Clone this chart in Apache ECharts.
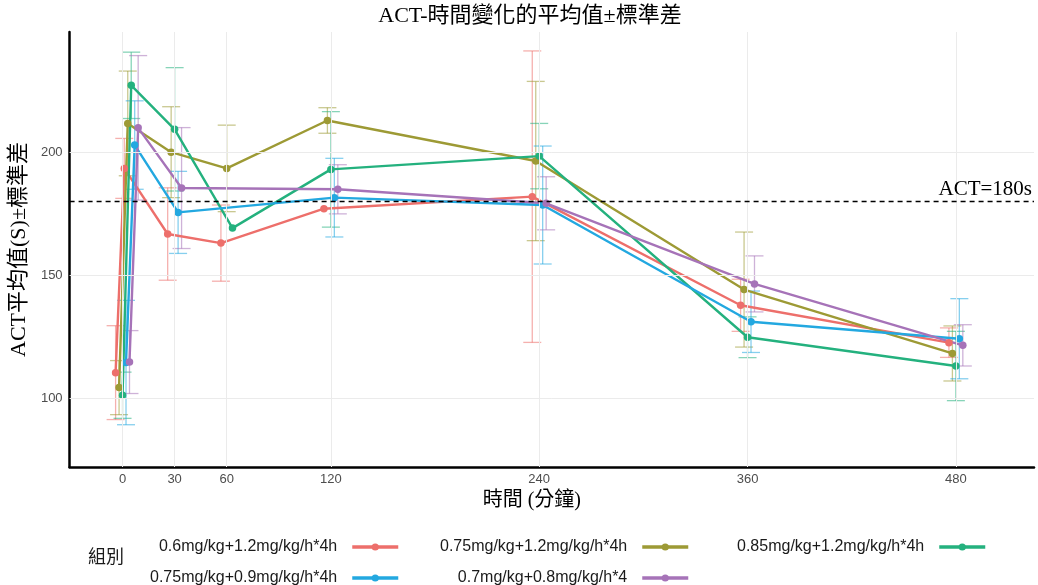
<!DOCTYPE html>
<html>
<head>
<meta charset="utf-8">
<script src="https://cdn.jsdelivr.net/npm/echarts@6/dist/echarts.min.js"></script>
<style>html,body{margin:0;padding:0;background:#fff}#c{width:1038px;height:585px}</style>
</head>
<body>
<div id="c"></div>
<script>
// ---- data ----
const times = [0, 5, 30, 60, 120, 240, 360, 480];
const xTickLabels = [0, 30, 60, 120, 240, 360, 480];
const yTickLabels = [100, 150, 200];
const refLine = 180;
const groupNames = [
  '0.6mg/kg+1.2mg/kg/h*4h',
  '0.75mg/kg+1.2mg/kg/h*4h',
  '0.85mg/kg+1.2mg/kg/h*4h',
  '0.75mg/kg+0.9mg/kg/h*4h',
  '0.7mg/kg+0.8mg/kg/h*4'
];
const meanG1 = [110.4, 193.5, 166.8, 163.1, 177.1, 182.0, 137.8, 122.6];
const meanG2 = [104.3, 211.8, 200.1, 193.5, 213.0, 196.5, 144.2, 118.2];
const meanG3 = [101.2, 227.3, 209.4, 169.2, 193.1, 198.5, 124.8, 113.1];
const meanG4 = [114.5, 203.0, 175.6, null, 181.6, 178.6, 131.1, 124.2];
const meanG5 = [114.7, 210.0, 185.5, null, 185.0, 179.3, 146.5, 121.5];
const sdG1 = [19.1, 12.2, 18.8, 15.5, null, 59.3, 10.6, 6.0];
const sdG2 = [11.0, 21.3, 18.5, 17.6, 5.2, 32.4, 23.4, 11.2];
const sdG3 = [9.4, 13.5, 25.1, null, 23.5, 13.3, 8.3, 14.1];
const sdG4 = [25.3, 18.0, 16.7, null, 16.0, 24.0, 12.5, 16.3];
const sdG5 = [12.8, 29.4, 24.6, null, 10.0, 10.8, 11.4, 8.4];

// ---- styles ----
const colors = ['#ED6F6B', '#9D9A35', '#24B17E', '#23A8E0', '#A673B8'];
const errAlpha = 0.55;
const dodgeWidth = 10;
const means = [meanG1, meanG2, meanG3, meanG4, meanG5];
const sds = [sdG1, sdG2, sdG3, sdG4, sdG5];

// dodge offsets per time point (like ggplot position_dodge)
const xPos = means.map(() => times.map(() => null));
times.forEach((t, ti) => {
  const present = [];
  means.forEach((m, gi) => { if (m[ti] != null) present.push(gi); });
  const n = present.length;
  present.forEach((gi, k) => {
    xPos[gi][ti] = t + (k - (n - 1) / 2) * dodgeWidth / n;
  });
});

function hexA(hex, a) {
  const r = parseInt(hex.slice(1, 3), 16), g = parseInt(hex.slice(3, 5), 16), b = parseInt(hex.slice(5, 7), 16);
  return 'rgba(' + r + ',' + g + ',' + b + ',' + a + ')';
}

const series = [];
// grid lines + reference line
series.push({
  type: 'line', data: [], silent: true, z: 0,
  markLine: {
    silent: true, symbol: 'none', animation: false,
    label: { show: false },
    lineStyle: { color: '#EBEBEB', width: 1, type: 'solid' },
    data: xTickLabels.map(v => ({ xAxis: v })).concat(yTickLabels.map(v => ({ yAxis: v })))
  }
});
series.push({
  type: 'line', data: [], silent: true, z: 1,
  markLine: {
    silent: true, symbol: 'none', animation: false,
    lineStyle: { color: '#000', width: 1.3, type: [5, 4] },
    label: {
      show: true, position: 'insideEndTop', formatter: 'ACT=180s', distance: [2, 2],
      color: '#000', fontSize: 21, fontFamily: 'Liberation Serif, serif'
    },
    data: [{ yAxis: refLine }]
  }
});

groupNames.forEach((name, gi) => {
  const errData = [];
  const lineData = [];
  times.forEach((t, ti) => {
    const m = means[gi][ti];
    if (m == null) return;
    lineData.push([xPos[gi][ti], m]);
    const s = sds[gi][ti];
    if (s != null) errData.push([xPos[gi][ti], m - s, m + s]);
  });
  const col = colors[gi];
  series.push({
    type: 'custom', name: name + ' err', z: 2, silent: true,
    data: errData,
    encode: { x: 0, y: [1, 2] },
    renderItem: function (params, api) {
      const x = api.value(0), lo = api.value(1), hi = api.value(2);
      const pt = api.coord([x, hi]);
      const pb = api.coord([x, lo]);
      const hw = 9;
      const st = { stroke: hexA(col, errAlpha), lineWidth: 1.3 };
      return {
        type: 'group',
        children: [
          { type: 'line', shape: { x1: pt[0], y1: pt[1], x2: pb[0], y2: pb[1] }, style: st },
          { type: 'line', shape: { x1: pt[0] - hw, y1: pt[1], x2: pt[0] + hw, y2: pt[1] }, style: st },
          { type: 'line', shape: { x1: pb[0] - hw, y1: pb[1], x2: pb[0] + hw, y2: pb[1] }, style: st }
        ]
      };
    }
  });
  series.push({
    type: 'line', name: name, z: 3,
    data: lineData,
    symbol: 'circle', symbolSize: 7.5,
    itemStyle: { color: col },
    lineStyle: { color: col, width: 2.4 },
    emphasis: { disabled: true }
  });
});

// legends (text left of key)
const legendRights = [638, 348, 51, 638, 348];
const legendTops = [539, 539, 539, 570, 570];
const legends = groupNames.map((name, gi) => ({
  data: [name],
  right: legendRights[gi], top: legendTops[gi],
  orient: 'horizontal', align: 'right', padding: 0,
  itemWidth: 46, itemHeight: 9, selectedMode: false,
  lineStyle: { width: 3.5 },
  textStyle: { fontSize: 16, color: '#1a1a1a', fontFamily: 'Liberation Sans, Arial, sans-serif', padding: [0, 10, 0, 0] }
}));

const chart = echarts.init(document.getElementById('c'), null, { renderer: 'canvas' });
chart.setOption({
  animation: false,
  backgroundColor: '#fff',
  color: colors,
  title: [
    {
      text: 'ACT-時間變化的平均值±標準差', left: 530, textAlign: 'center', top: 5, padding: 0,
      textStyle: { fontFamily: 'Liberation Serif, Noto Sans CJK TC, serif', fontSize: 22, fontWeight: 'normal', color: '#000' }
    },
    {
      text: '組別', left: 88, top: 547, padding: 0,
      textStyle: { fontFamily: 'Noto Sans CJK TC, sans-serif', fontSize: 18, fontWeight: 'normal', color: '#1a1a1a' }
    }
  ],
  legend: legends,
  grid: { left: 63, right: 4, top: 32, bottom: 118, containLabel: false },
  xAxis: {
    type: 'value', min: -30.5, max: 525,
    name: '時間 (分鐘)', nameLocation: 'middle', nameGap: 17,
    nameTextStyle: { fontFamily: 'Liberation Serif, Noto Sans CJK TC, serif', fontSize: 20, color: '#000', padding: [0, 40, 0, 0] },
    axisLine: { show: true, onZero: false, lineStyle: { color: '#000', width: 2.5 } },
    axisTick: { show: false },
    splitLine: { show: false },
    axisLabel: { customValues: xTickLabels, color: '#4D4D4D', fontSize: 13, margin: 6, fontFamily: 'Liberation Sans, Arial, sans-serif' }
  },
  yAxis: {
    type: 'value', min: 72, max: 249,
    name: 'ACT平均值(S)±標準差', nameLocation: 'middle', nameGap: 32, nameRotate: 90,
    nameTextStyle: { fontFamily: 'Liberation Serif, Noto Sans CJK TC, serif', fontSize: 22, color: '#000' },
    axisLine: { show: true, onZero: false, lineStyle: { color: '#000', width: 2.5 } },
    axisTick: { show: false },
    splitLine: { show: false },
    axisLabel: { customValues: yTickLabels, color: '#4D4D4D', fontSize: 13, margin: 7, fontFamily: 'Liberation Sans, Arial, sans-serif' }
  },
  series: series
});
</script>
</body>
</html>
